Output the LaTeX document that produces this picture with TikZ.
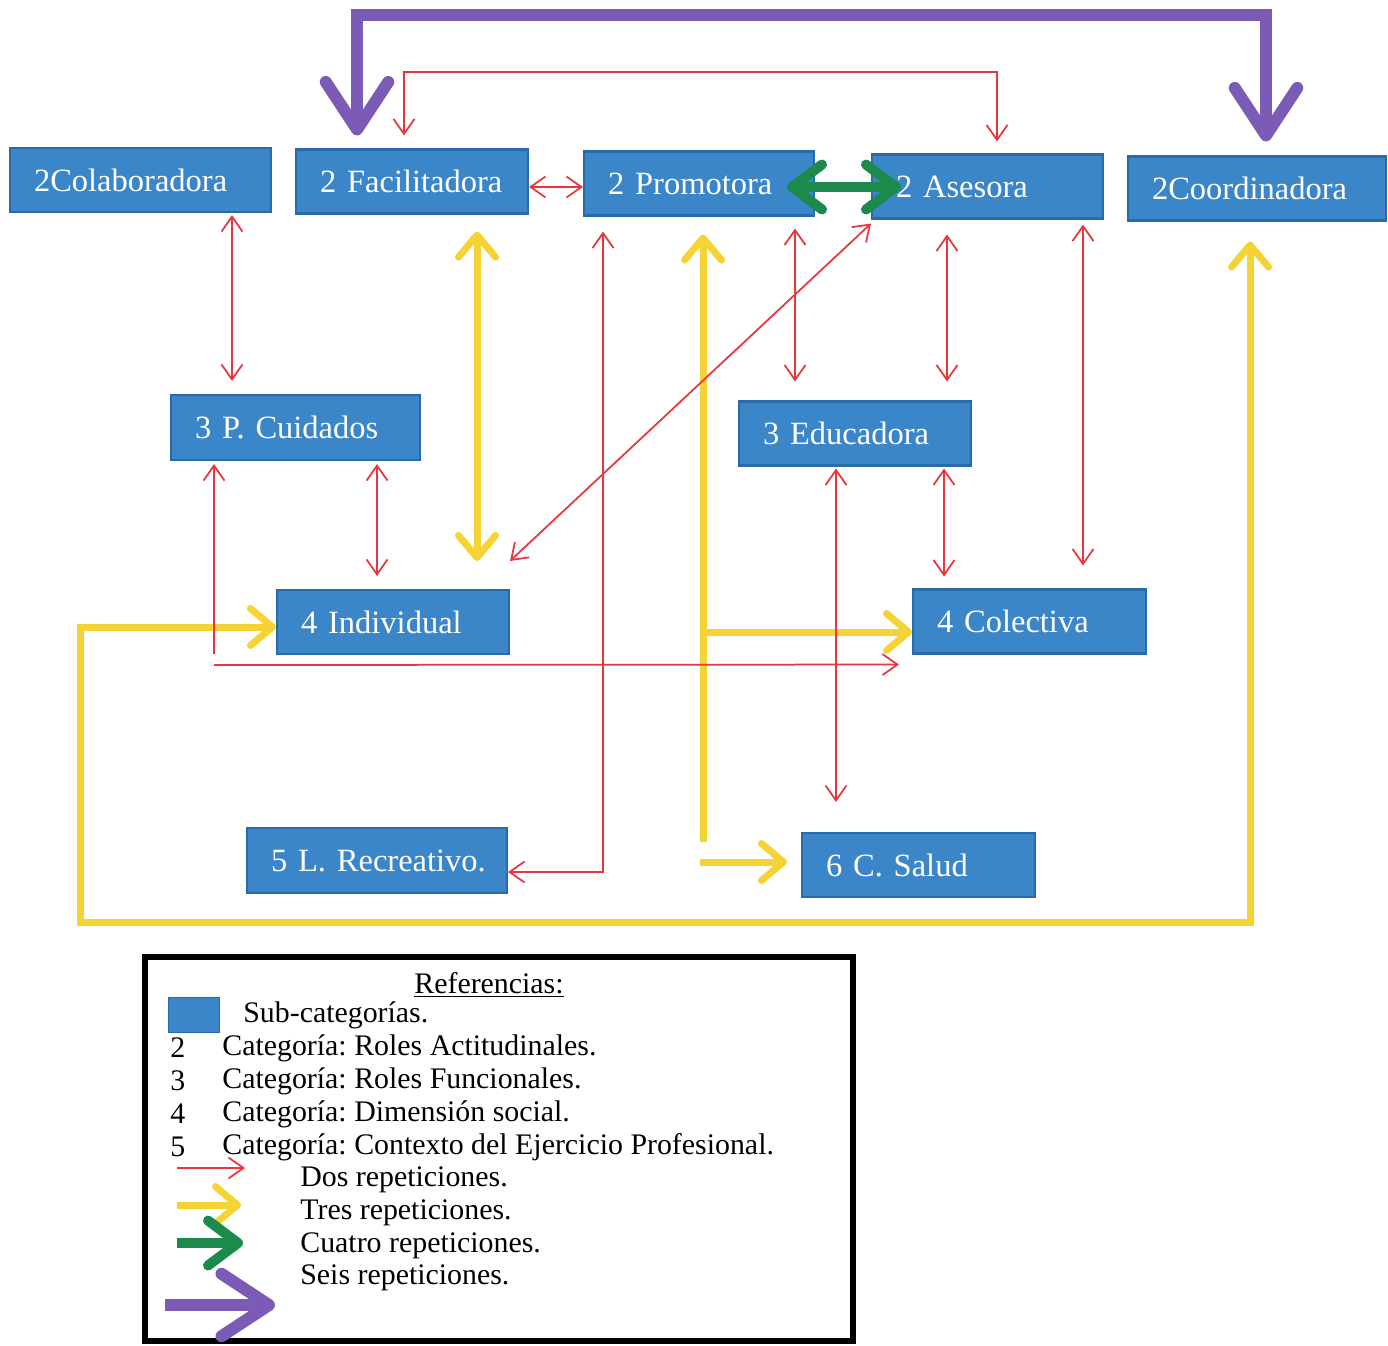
\documentclass[tikz,border=0pt]{standalone}
\usepackage{fontspec}
\setmainfont{Liberation Serif}
\usetikzlibrary{arrows.meta}
\definecolor{azul}{HTML}{3A86C8}
\definecolor{azulborde}{HTML}{2B6AA8}
\definecolor{rojo}{HTML}{E8363F}
\definecolor{amarillo}{HTML}{F6D334}
\definecolor{verde}{HTML}{1B8A4C}
\definecolor{morado}{HTML}{7B5BB5}
\frenchspacing

\begin{document}
\begin{tikzpicture}[
  x=0.02cm, y=-0.02cm,
  sub/.style={rectangle, draw=azulborde, fill=azul, line width=1.2pt, text=white, inner xsep=0.48cm, inner ysep=0pt, minimum height=1.28cm, align=left, text width=#1, font=\fontsize{18.5}{20}\selectfont},
  dos/.style={draw=rojo, line width=0.035cm, >={Straight Barb[length=0.3cm,width=0.42cm]}},
  tres/.style={draw=amarillo, line width=0.14cm, >={Straight Barb[round,length=0.44cm,width=0.74cm]}},
  cuatro/.style={draw=verde, line width=0.2cm, >={Straight Barb[round,length=0.6cm,width=0.9cm]}},
  seis/.style={draw=morado, line width=0.24cm, >={Straight Barb[round,length=0.95cm,width=1.25cm]}},
  leyenda/.style={anchor=west, inner xsep=0pt, font=\fontsize{17}{19}\selectfont}
]
  \useasboundingbox[fill=white] (0,0) rectangle (1388,1345);

  \node[sub=4.26cm] (colab) at (140.5,180) {2Colaboradora};
  \node[sub=3.68cm] (facil) at (412,181.5) {2 Facilitadora};
  \node[sub=3.64cm] (promo) at (699,183.5) {2 Promotora};
  \node[sub=3.66cm] (ases) at (987.5,186.5) {2 Asesora};
  \node[sub=4.2cm] (coordi) at (1257,188.5) {2Coordinadora};
  \node[sub=4.02cm, minimum height=1.3cm] (pcuid) at (295.5,427.5) {3 P. Cuidados};
  \node[sub=3.68cm] (educ) at (855,433.5) {3 Educadora};
  \node[sub=3.68cm] (indiv) at (393,622) {4 Individual};
  \node[sub=3.7cm] (colec) at (1029.5,621.5) {4 Colectiva};
  \node[sub=4.24cm, minimum height=1.3cm] (recre) at (377,860.5) {\mbox{5 L. Recreativo.}};
  \node[sub=3.7cm] (salud) at (918.5,865) {6 C. Salud};

  \coordinate (cam) at (703,842);
  \coordinate (rama) at (703,632);
  \coordinate (rama2) at (700,862);
  \coordinate (codo) at (214,654);
  \coordinate (codo2) at (214,665);

  \draw[tres,<->,shorten <=0.34cm,shorten >=0.56cm] (facil.south -| 477,0) -- (indiv.north -| 477,0);
  \draw[tres,<-,shorten <=0.36cm] (promo.south -| 703,0) -- (cam);
  \draw[tres,->] (rama) -- (colec.west |- rama);
  \draw[tres,->,shorten >=0.28cm] (rama2) -- (salud.west |- rama2);
  \draw[tres,<->,shorten <=0.4cm] (coordi.south -| 1250,0) |- (80,922) |- (indiv.west |- 0,627);

  \draw[dos,<->,shorten <=0.26cm,shorten >=0.24cm] (facil.north -| 404,0) |- (997,72) -- (ases.north -| 997,0);
  \draw[dos,<->] (facil.east |- 0,187) -- (promo.west |- 0,187);
  \draw[dos,<->,shorten <=0.04cm,shorten >=0.26cm] (colab.south -| 232,0) -- (pcuid.north -| 232,0);
  \draw[dos,<->,shorten <=0.06cm,shorten >=0.26cm] (pcuid.south -| 377,0) -- (indiv.north -| 377,0);
  \draw[dos,<-,shorten <=0.06cm] (pcuid.south -| 214,0) -- (codo);
  \draw[dos,->] (codo2) -- ([shift={(-0.26cm,-0.2cm)}]colec.south west);
  \draw[dos,<->,shorten >=0.3cm] (recre.east |- 0,872) -| (promo.south -| 603,0);
  \draw[dos,<->] ([yshift=0.56cm]indiv.north east) -- ([yshift=-0.08cm]ases.south west);
  \draw[dos,<->,shorten <=0.24cm,shorten >=0.38cm] (promo.south -| 795,0) -- (educ.north -| 795,0);
  \draw[dos,<->,shorten <=0.3cm,shorten >=0.38cm] (ases.south -| 947,0) -- (educ.north -| 947,0);
  \draw[dos,<->,shorten <=0.1cm,shorten >=0.46cm] (ases.south -| 1083,0) -- (colec.north -| 1083,0);
  \draw[dos,<->,shorten <=0.04cm,shorten >=0.24cm] (educ.south -| 944,0) -- (colec.north -| 944,0);
  \draw[dos,<->,shorten <=0.04cm,shorten >=0.6cm] (educ.south -| 836,0) -- (salud.north -| 836,0);

  \draw[cuatro,<->,shorten <=-0.56cm,shorten >=-0.6cm] (promo.east |- 0,187) -- (ases.west |- 0,187);
  \draw[seis,<->,shorten <=0.26cm,shorten >=0.28cm] (facil.north -| 357,0) |- (1266,15) -- (coordi.north -| 1266,0);

  \node[draw, line width=0.12cm, minimum width=14.16cm, minimum height=7.68cm] (ref) at (499,1149) {};
  \node[font=\fontsize{17}{19}\selectfont] (titref) at (489,985) {\underline{Referencias:}};
  \node[fill=azul, draw=azulborde, minimum width=1.02cm, minimum height=0.7cm, inner sep=0pt] (muestra) at (193.5,1014.5) {};
  \node[leyenda] (tsub) at (243,1015) {Sub-categorías.};
  \foreach \n/\t [count=\i] in {2/Roles Actitudinales., 3/Roles Funcionales., 4/Dimensión social., 5/Contexto del Ejercicio Profesional.}{
    \node[leyenda] (num\i) at (170,1015+33*\i) {\n};
    \node[leyenda] (cat\i) at (222,1015+33*\i) {Categoría: \t};
  }
  \node[leyenda] (tdos) at (300,1180) {Dos repeticiones.};
  \node[leyenda] (ttres) at (300,1213) {Tres repeticiones.};
  \node[leyenda] (tcuatro) at (300,1246) {Cuatro repeticiones.};
  \node[leyenda] (tseis) at (300,1278) {Seis repeticiones.};
  \draw[dos,->] (177,1168) -- (245,1168);
  \draw[tres,->] (177,1205) -- (241,1205);
  \draw[cuatro,->] (177,1243) -- (243,1243);
  \draw[seis,->] (165,1305) -- (275,1305);
\end{tikzpicture}
\end{document}
